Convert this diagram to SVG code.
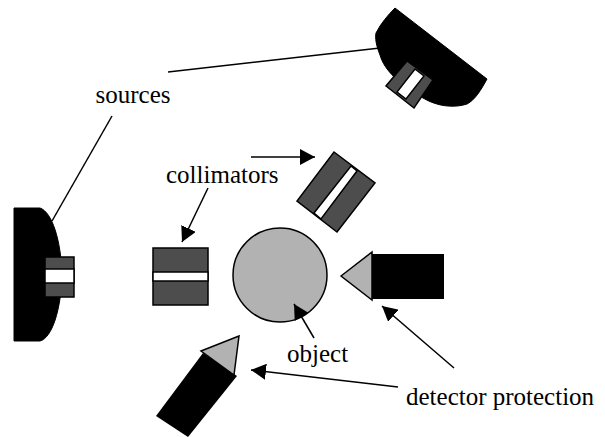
<svg xmlns="http://www.w3.org/2000/svg" width="605" height="437" viewBox="0 0 605 437">
<style>
text{font-family:"Liberation Serif","Times New Roman",serif;font-size:25px;fill:#000}
.src{fill:#000;stroke:#000;stroke-width:1}
.col{fill:#4d4d4d;stroke:#000;stroke-width:1.5}
.slot{fill:#fff;stroke:#000;stroke-width:1.5}
.tip{fill:#b2b2b2;stroke:#000;stroke-width:1.5}
.ln{fill:none;stroke:#000;stroke-width:1.5}
</style>
<defs><marker id="ah" markerUnits="userSpaceOnUse" markerWidth="16" markerHeight="16" refX="15" refY="8" orient="auto"><path d="M0 0L15 8L0 16Z" fill="#000"/></marker></defs>
<g id="source-top"><path class="src" d="M395 8L487 79C481 90 475 100 467 104C455 108 438 107 423 98C400 85 384 70 380 55C376 45 375 38 376 33C381 23 388 15 395 8Z"/>
<path class="col" d="M407 61L433 80L414 108L386 86Z"/><path class="slot" d="M415 69L424 76L406 99L397 92Z"/></g>
<g id="source-left"><path class="src" d="M14 208L40 208C52 212 61 240 62 275C61 310 52 338 40 341L14 341Z"/>
<rect class="col" x="45" y="257" width="29" height="40"/><rect class="slot" x="45" y="269" width="29" height="14"/></g>
<g id="collimator-left"><rect class="col" x="153" y="248" width="55" height="57"/><rect class="slot" x="153" y="272" width="55" height="9"/></g>
<g id="collimator-top"><path class="col" d="M334 152L375 183L337 232L297 201Z"/><path class="slot" d="M351 166L357 171L321 219L314 213Z"/></g>
<g id="object"><circle cx="280" cy="275" r="47" fill="#b2b2b2" stroke="#000" stroke-width="1.5"/></g>
<g id="detector-right"><rect x="371" y="254" width="73" height="45" fill="#000"/><path class="tip" d="M341 276L372 252L372 300Z"/></g>
<g id="detector-bottom"><path d="M203 353L237 376L188 437L156 416Z" fill="#000"/><path class="tip" d="M239 336L201 351L234 375Z"/></g>
<g id="connectors">
<path class="ln" d="M168 72L380 48"/>
<path class="ln" d="M52 221L112 116"/>
<path class="ln" d="M251 157L315 157" marker-end="url(#ah)"/>
<path class="ln" d="M208 188L182 242" marker-end="url(#ah)"/>
<path class="ln" d="M314 338L294 304" marker-end="url(#ah)"/>
<path class="ln" d="M454 368L382 306" marker-end="url(#ah)"/>
<path class="ln" d="M398 387L251 370" marker-end="url(#ah)"/>
</g>
<g id="labels">
<text x="95.500" y="102.500">sources</text>
<text x="166" y="183">collimators</text>
<text x="287" y="362">object</text>
<text x="406" y="405">detector protection</text>
</g>
</svg>
